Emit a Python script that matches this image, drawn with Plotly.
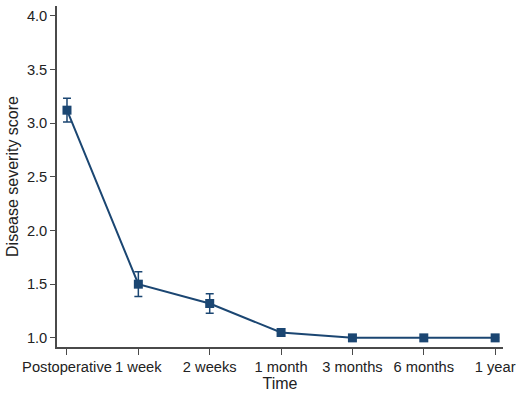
import plotly.graph_objects as go

# Follow-up time points and mean disease severity scores
time_points = ["Postoperative", "1 week", "2 weeks", "1 month", "3 months", "6 months", "1 year"]
mean_score = [3.12, 1.50, 1.32, 1.05, 1.00, 1.00, 1.00]
score_error = [0.11, 0.115, 0.09, 0.035, 0.0, 0.0, 0.0]
y_tick_values = [1.0, 1.5, 2.0, 2.5, 3.0, 3.5, 4.0]
y_tick_labels = ["1.0", "1.5", "2.0", "2.5", "3.0", "3.5", "4.0"]

navy = "#1b4672"
axis_grey = "#4a4a4a"

fig = go.Figure(
    go.Scatter(
        x=list(range(len(time_points))),
        y=mean_score,
        mode="lines+markers",
        line=dict(color=navy, width=2),
        marker=dict(symbol="square", size=9, color=navy),
        error_y=dict(type="data", array=score_error, visible=True,
                     color=navy, thickness=1.5, width=4),
        showlegend=False,
    )
)

fig.update_layout(
    width=516,
    height=393,
    margin=dict(l=57, r=13, t=6, b=46, autoexpand=False),
    paper_bgcolor="white",
    plot_bgcolor="white",
    font=dict(family="Liberation Sans, Arial, sans-serif", size=14.7, color="#222222"),
    xaxis=dict(
        range=[-0.14, 6.11],
        tickmode="array",
        tickvals=list(range(len(time_points))),
        ticktext=time_points,
        tickangle=0,
        ticklabeloverflow="allow",
        automargin=False,
        showline=True, linecolor=axis_grey, linewidth=1.5,
        ticks="outside", ticklen=6, tickcolor=axis_grey, tickwidth=1.2,
        showgrid=False, zeroline=False,
        title=dict(text="Time", font=dict(size=16), standoff=2),
    ),
    yaxis=dict(
        range=[0.915, 4.09],
        tickmode="array",
        tickvals=y_tick_values,
        ticktext=y_tick_labels,
        automargin=False,
        showline=True, linecolor=axis_grey, linewidth=1.5,
        ticks="outside", ticklen=5, tickcolor=axis_grey, tickwidth=1.2,
        showgrid=False, zeroline=False,
        title=dict(text="Disease severity score", font=dict(size=16), standoff=4),
    ),
)

fig.write_html("out.html")
